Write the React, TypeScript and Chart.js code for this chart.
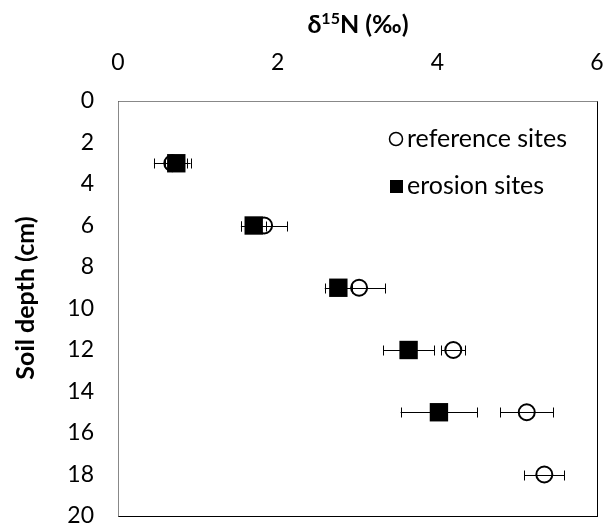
import { useEffect, useRef } from "react";
import { Chart, registerables } from "chart.js";
Chart.register(...registerables);

const FONT = "Lato, 'Open Sans', sans-serif";

// Tick labels
const xTicks = [0, 2, 4, 6];
const yTicks = [0, 2, 4, 6, 8, 10, 12, 14, 16, 18, 20];

// Reference sites
const refDepths = [3, 6, 9, 12, 15, 18];
const refMean = [0.68, 1.83, 3.02, 4.2, 5.12, 5.34];
const refErr = [0.23, 0.29, 0.33, 0.15, 0.33, 0.25];

// Erosion sites
const eroDepths = [3, 6, 9, 12, 15];
const eroMean = [0.73, 1.7, 2.76, 3.64, 4.02];
const eroErr = [0.14, 0.16, 0.17, 0.32, 0.48];

const seriesNames = ["reference sites", "erosion sites"];
const xTitleMain = "δ";
const xTitleSup = "15";
const xTitleRest = "N (‰)";
const yTitle = "Soil depth (cm)";

const errorBars = {
  id: "errorBars",
  beforeDatasetsDraw(chart: any) {
    const ctx = chart.ctx;
    const xs = chart.scales.x;
    const errs = [refErr, eroErr];
    const means = [refMean, eroMean];
    ctx.save();
    ctx.strokeStyle = "#000";
    ctx.lineWidth = 1;
    chart.data.datasets.forEach((ds: any, di: number) => {
      const meta = chart.getDatasetMeta(di);
      meta.data.forEach((pt: any, i: number) => {
        const y = Math.round(pt.y) + 0.5;
        const x1 = xs.getPixelForValue(means[di][i] - errs[di][i]);
        const x2 = xs.getPixelForValue(means[di][i] + errs[di][i]);
        ctx.beginPath();
        ctx.moveTo(x1, y);
        ctx.lineTo(x2, y);
        const c1 = Math.round(x1) + 0.5;
        const c2 = Math.round(x2) + 0.5;
        ctx.moveTo(c1, y - 5);
        ctx.lineTo(c1, y + 5);
        ctx.moveTo(c2, y - 5);
        ctx.lineTo(c2, y + 5);
        ctx.stroke();
      });
    });
    ctx.restore();
  },
  afterDraw(chart: any) {
    const ctx = chart.ctx;
    const a = chart.chartArea;
    ctx.save();
    // plot frame
    ctx.lineWidth = 1;
    ctx.strokeStyle = "#000";
    ctx.strokeRect(Math.round(a.left) + 0.5, Math.round(a.top) + 0.5, Math.round(a.right - a.left), Math.round(a.bottom - a.top));
    ctx.strokeStyle = "#888";
    ctx.beginPath();
    ctx.moveTo(Math.round(a.left) + 0.5, Math.round(a.bottom) + 0.5);
    ctx.lineTo(Math.round(a.left) + 0.5, Math.round(a.top) + 0.5);
    ctx.lineTo(Math.round(a.right) + 0.5, Math.round(a.top) + 0.5);
    ctx.stroke();

    // legend
    ctx.fillStyle = "#000";
    ctx.font = `25px ${FONT}`;
    ctx.textBaseline = "middle";
    ctx.textAlign = "left";
    ctx.strokeStyle = "#000";
    ctx.lineWidth = 1.5;
    ctx.beginPath();
    ctx.arc(396, 139, 6.5, 0, Math.PI * 2);
    ctx.stroke();
    ctx.fillText(seriesNames[0], 407, 139);
    ctx.fillRect(390, 180, 13, 13);
    ctx.fillText(seriesNames[1], 407, 186);

    // x title
    ctx.font = `bold 25px ${FONT}`;
    const w1 = ctx.measureText(xTitleMain).width;
    const w3 = ctx.measureText(xTitleRest).width;
    ctx.font = `bold 16px ${FONT}`;
    const w2 = ctx.measureText(xTitleSup).width;
    const total = w1 + w2 + w3;
    let x = 358 - total / 2;
    ctx.textBaseline = "alphabetic";
    ctx.font = `bold 25px ${FONT}`;
    ctx.fillText(xTitleMain, x, 33);
    x += w1;
    ctx.font = `bold 16px ${FONT}`;
    ctx.fillText(xTitleSup, x, 24);
    x += w2;
    ctx.font = `bold 25px ${FONT}`;
    ctx.fillText(xTitleRest, x, 33);

    // y title
    ctx.save();
    ctx.translate(26, 298);
    ctx.rotate(-Math.PI / 2);
    ctx.textAlign = "center";
    ctx.textBaseline = "middle";
    ctx.fillText(yTitle, 0, 0);
    ctx.restore();
    ctx.restore();
  },
};

const zeroPad = (s: any) => {
  s.paddingLeft = 0;
  s.paddingRight = 0;
  s.paddingTop = 0;
  s.paddingBottom = 0;
};

export default function App() {
  const ref = useRef<HTMLCanvasElement>(null);
  useEffect(() => {
    const chart = new Chart(ref.current!, {
      type: "scatter",
      data: {
        datasets: [
          {
            label: seriesNames[0],
            data: refDepths.map((d, i) => ({ x: refMean[i], y: d })),
            pointStyle: "circle",
            pointRadius: 8,
            pointBorderWidth: 2,
            borderColor: "#000",
            backgroundColor: "rgba(0,0,0,0)",
          },
          {
            label: seriesNames[1],
            data: eroDepths.map((d, i) => ({ x: eroMean[i], y: d })),
            pointStyle: "rect",
            pointRadius: 13,
            pointBorderWidth: 0,
            borderColor: "#000",
            backgroundColor: "#000",
          },
        ],
      } as any,
      options: {
        responsive: false,
        animation: false,
        layout: { padding: { left: 0, top: 0, right: 10, bottom: 10 } },
        plugins: { legend: { display: false }, tooltip: { enabled: false } },
        scales: {
          x: {
            type: "linear",
            position: "top",
            min: 0,
            max: 6,
            afterBuildTicks: (s: any) => {
              s.ticks = xTicks.map((v) => ({ value: v }));
            },
            afterFit: (s: any) => {
              s.height = 101;
              zeroPad(s);
            },
            grid: { display: false, drawTicks: false },
            border: { display: false },
            ticks: { font: { family: FONT, size: 23 }, color: "#000", padding: 25, maxRotation: 0 },
          },
          y: {
            type: "linear",
            reverse: true,
            min: 0,
            max: 20,
            afterBuildTicks: (s: any) => {
              s.ticks = yTicks.map((v) => ({ value: v }));
            },
            afterFit: (s: any) => {
              s.width = 118;
              zeroPad(s);
            },
            grid: { display: false, drawTicks: false },
            border: { display: false },
            ticks: { font: { family: FONT, size: 23 }, color: "#000", padding: 24 },
          },
        },
      },
      plugins: [errorBars],
    });
    return () => chart.destroy();
  }, []);
  return (
    <div style={{ position: "fixed", left: 0, top: 0, width: 610, height: 529, background: "#fff" }}>
      <canvas ref={ref} width={610} height={529} style={{ display: "block" }} />
    </div>
  );
}
